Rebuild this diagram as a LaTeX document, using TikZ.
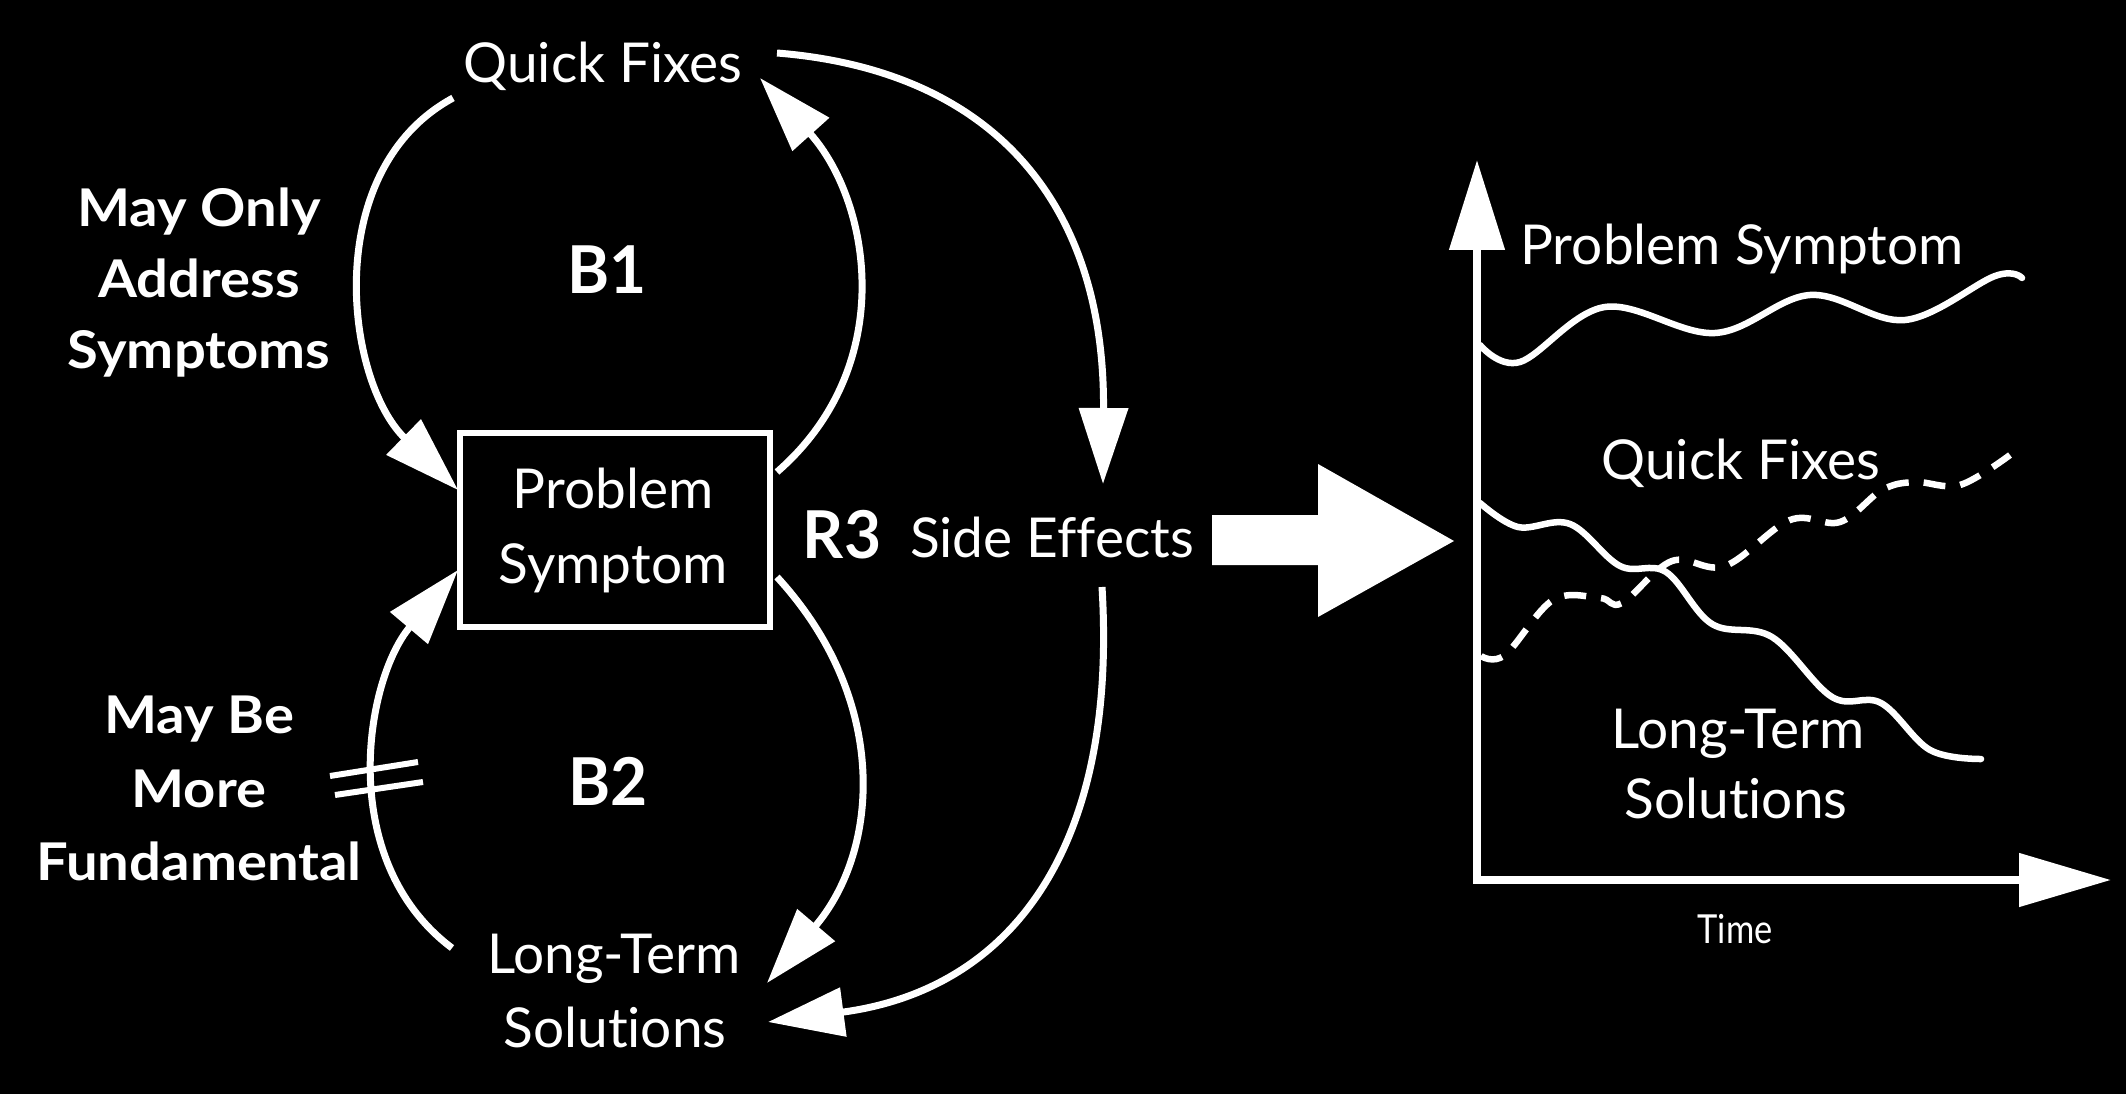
\documentclass[tikz,border=0pt]{standalone}
\usepackage{fontspec}
\setmainfont[Ligatures=NoCommon]{Lato}
\newfontfamily\boldlbl[FakeStretch=1.08,Ligatures=NoCommon]{Lato Bold}
\newfontfamily\biglbl[FakeStretch=0.97,Ligatures=NoCommon]{Lato Bold}
\newfontfamily\narrowlbl[FakeStretch=0.86,Ligatures=NoCommon]{Lato}
\usetikzlibrary{arrows.meta}
\begin{document}
\begin{tikzpicture}[x=1pt,y=-1pt,
  txt/.style={text=white, font=\fontsize{55}{60}\selectfont, anchor=base, inner sep=0pt},
  bld/.style={text=white, font=\boldlbl\fontsize{52}{60}\selectfont, anchor=base, inner sep=0pt},
  big/.style={text=white, font=\biglbl\fontsize{66}{70}\selectfont, anchor=base, inner sep=0pt},
  conn/.style={draw=white, line width=7pt, -{Triangle[length=76pt,width=48pt]}},
  plain/.style={draw=white, line width=7pt},
  axis/.style={draw=white, line width=8pt, line join=miter,
    {Triangle[length=90pt,width=54pt]}-{Triangle[length=92pt,width=52pt]}},
  curve/.style={draw=white, line width=6.5pt, line cap=round, line join=round},
  dcurve/.style={curve, line cap=butt, dash pattern=on 22pt off 15pt}
]
\fill[black] (0,0) rectangle (2126,1094);
\useasboundingbox (0,0) rectangle (2126,1094);

% ---------- left: causal loop diagram ----------
\node[txt] (QF) at (603,83) {Quick Fixes};
\node[bld] (L1a) at (199,227) {May Only};
\node[bld] (L1b) at (199,298) {Address};
\node[bld] (L1c) at (199,368) {Symptoms};
\node[big] (B1) at (607,293) {B1};

\node[draw=white, line width=6pt, minimum width=310pt, minimum height=194pt, inner sep=0pt] (PS) at (615,530) {};
\node[txt] (PSa) at (613,508) {Problem};
\node[txt] (PSb) at (613,583) {Symptom};

\node[big] (R3) at (842,558) {R3};
\node[txt] (SE) at (1052,557) {Side Effects};

\node[big] (B2) at (608,805) {B2};
\node[bld] (L2a) at (199,733) {May Be};
\node[bld] (L2b) at (199,807) {More};
\node[bld] (L2c) at (199,880) {Fundamental};

\node[txt] (LTa) at (614,973) {Long-Term};
\node[txt] (LTb) at (615,1047) {Solutions};

% connector end points
\coordinate (qfL) at (453,98);
\coordinate (qfR) at (777,53);
\coordinate (qfT) at (760,78);
\coordinate (psTL) at (458,490);
\coordinate (psBL) at (458,570);
\coordinate (psTR) at (777,472);
\coordinate (psBR) at (777,577);
\coordinate (seT) at (1103,484);
\coordinate (seB) at (1102,587);
\coordinate (ltL) at (452,948);
\coordinate (ltT) at (767,983);
\coordinate (ltR) at (768,1022);

% B1 loop
\draw[conn] (qfL) .. controls (320,170) and (345,380) .. (psTL);
\draw[conn] (psTR) .. controls (900,365) and (870,200) .. (qfT);
% R3 loop
\draw[conn] (qfR) .. controls (990,70) and (1105,200) .. (seT);
\draw[conn] (seB) .. controls (1118,850) and (1010,990) .. (ltR);
% B2 loop
\draw[conn] (psBR) .. controls (890,700) and (880,850) .. (ltT);
\draw[conn] (ltL) .. controls (335,860) and (365,680) .. (psBL);
% delay marks
\coordinate (d1a) at (330,776); \coordinate (d1b) at (418,762);
\coordinate (d2a) at (335,795); \coordinate (d2b) at (423,782);
\draw[plain, line width=6pt] (d1a) -- (d1b);
\draw[plain, line width=6pt] (d2a) -- (d2b);

% big block arrow
\fill[white] (1212,515) -- (1318,515) -- (1318,464) -- (1454,541) -- (1318,617) -- (1318,565) -- (1212,565) -- cycle;

% ---------- right: behaviour over time ----------
\coordinate (org) at (1477,880);
\coordinate (ytip) at (1477,160);
\coordinate (xtip) at (2111,880);
\draw[axis] (ytip) -- (org) -- (xtip);

\node[txt] (GPS) at (1742,265) {Problem Symptom};
\node[txt] (GQF) at (1741,479) {Quick Fixes};
\node[txt] (GLTa) at (1738,748) {Long-Term};
\node[txt] (GLTb) at (1736,818) {Solutions};
\node[txt, font=\narrowlbl\fontsize{40}{44}\selectfont] (TM) at (1735,943) {Time};

\draw[curve] plot[smooth, tension=0.6] coordinates {(1480,345) (1520,362) (1605,307) (1715,333) (1810,295) (1905,320) (1995,276) (2022,278)};
\draw[curve] plot[smooth, tension=0.6] coordinates {(1480,503) (1518,527) (1570,524) (1620,566) (1666,572) (1712,624) (1772,637) (1832,697) (1881,703) (1930,750) (1981,759)};
\draw[dcurve] plot[smooth, tension=0.6] coordinates {(1481,656) (1505,655) (1553,600) (1600,598) (1622,603) (1672,561) (1725,566) (1790,520) (1840,522) (1882,490) (1915,482) (1960,485) (2010,455)};
\end{tikzpicture}
\end{document}
